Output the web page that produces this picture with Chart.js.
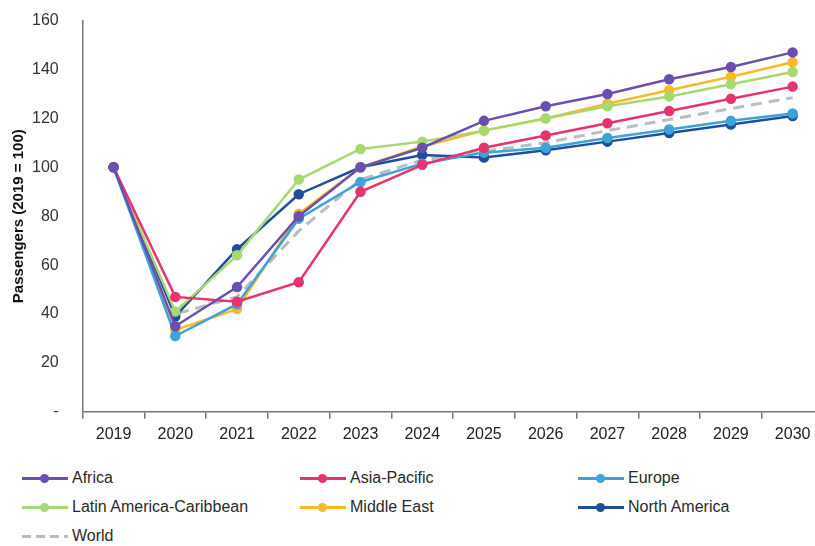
<!DOCTYPE html>
<html>
<head>
<meta charset="utf-8">
<script src="https://cdn.jsdelivr.net/npm/chart.js@4.4.1/dist/chart.umd.min.js"></script>
<style>
  body { margin: 0; background: #fff; }
  #wrap { position: relative; width: 815px; height: 546px; overflow: hidden; }
  #chart-line { position: absolute; left: 0; top: -13px; }
  #legend {
    position: absolute; left: 22px; top: 466px;
    display: grid; grid-template-columns: 278px 278px 230px;
    row-gap: 6px;
    font-family: "Liberation Sans", Arial, sans-serif;
    font-size: 16px; color: #2a2a2a;
  }
  .item { display: flex; align-items: center; height: 23px; }
  .mark { position: relative; width: 46px; height: 10px; margin-right: 4px; }
  .mark .ln { position: absolute; left: 0; right: 0; top: 4px; height: 3px; }
  .mark .dot { position: absolute; left: 18px; top: 1px; width: 9px; height: 9px; border-radius: 50%; }
</style>
</head>
<body>
<div id="wrap">
  <canvas id="chart-line" width="830" height="463"></canvas>
  <div id="legend"></div>
</div>
<script>
// categories
const years = ["2019", "2020", "2021", "2022", "2023", "2024", "2025", "2026", "2027", "2028", "2029", "2030"];

// series values (2019 = 100)
const africa = [100, 35, 51, 80, 100, 108, 119, 125, 130, 136, 141, 147];
const asiaPacific = [100, 47, 45, 53, 90, 101, 108, 113, 118, 123, 128, 133];
const europe = [100, 31, 44, 79, 94, 101.5, 106, 108, 112, 115.5, 119, 122];
const latinAmerica = [100, 41, 64, 95, 107.5, 110.5, 115, 120, 125, 129, 134, 139];
const middleEast = [100, 33.5, 42, 81, 100, 108.5, 115, 120, 126, 131.5, 137, 143];
const northAmerica = [100, 39, 66.5, 89, 100, 105, 104, 107, 110.5, 114, 117.5, 121];
const world = [100, 40, 47, 74, 95, 103, 106.5, 110, 115, 119.5, 124, 128.5];

// y tick labels
const yTicks = [0, 20, 40, 60, 80, 100, 120, 140, 160];

const series = [
  { label: "Africa", data: africa, color: "#6b4fb0" },
  { label: "Asia-Pacific", data: asiaPacific, color: "#e8336e" },
  { label: "Europe", data: europe, color: "#3ea2db" },
  { label: "Latin America-Caribbean", data: latinAmerica, color: "#a8d870" },
  { label: "Middle East", data: middleEast, color: "#fbb928" },
  { label: "North America", data: northAmerica, color: "#1f4f98" },
  { label: "World", data: world, color: "#b9bcc0", dashed: true },
];

const fontFamily = "Liberation Sans, Arial, sans-serif";

const datasets = series.map(function (s) {
  return {
    label: s.label,
    data: s.data,
    borderColor: s.color,
    backgroundColor: s.color,
    pointBackgroundColor: s.color,
    pointBorderColor: s.color,
    borderWidth: s.dashed ? 3 : 2.5,
    borderDash: s.dashed ? [11, 7] : [],
    pointRadius: s.dashed ? 0 : 4,
    tension: 0,
    fill: false,
    order: s.dashed ? 10 : 0,
  };
});

var ctx1 = document.getElementById("chart-line").getContext("2d");

new Chart(ctx1, {
  type: "line",
  data: { labels: years, datasets: datasets },
  options: {
    responsive: false,
    animation: false,
    clip: false,
    layout: { padding: { top: 0, right: 0, left: 4, bottom: 0 } },
    plugins: {
      legend: { display: false },
      tooltip: { enabled: false },
    },
    scales: {
      y: {
        min: 0,
        max: 160,
        afterBuildTicks: function (axis) {
          axis.ticks = yTicks.map(function (v) { return { value: v }; });
        },
        border: { display: true, color: "#777", width: 1.5 },
        grid: { display: false, drawTicks: false },
        ticks: {
          padding: 24,
          color: "#333",
          font: { size: 16, family: fontFamily },
          callback: function (v) { return v === 0 ? "-" : v; },
        },
        title: {
          display: true,
          text: "Passengers (2019 = 100)",
          color: "#111",
          padding: { top: 6, bottom: -20 },
          font: { size: 15, weight: "bold", family: fontFamily },
        },
      },
      x: {
        offset: true,
        border: { display: true, color: "#777", width: 1.5 },
        grid: {
          display: true,
          offset: true,
          drawOnChartArea: false,
          drawTicks: true,
          tickLength: 7,
          color: "#777",
          lineWidth: 1.5,
        },
        ticks: {
          padding: 6,
          color: "#222",
          maxRotation: 0,
          font: { size: 16, family: fontFamily },
        },
      },
    },
  },
});

// HTML legend
const legendEl = document.getElementById("legend");
series.forEach(function (s) {
  const item = document.createElement("div");
  item.className = "item";
  const mark = document.createElement("span");
  mark.className = "mark";
  if (s.dashed) {
    mark.innerHTML = '<span class="ln" style="background:repeating-linear-gradient(90deg,' + s.color + ' 0 9px,transparent 9px 14px)"></span>';
  } else {
    mark.innerHTML = '<span class="ln" style="background:' + s.color + '"></span><span class="dot" style="background:' + s.color + '"></span>';
  }
  const txt = document.createElement("span");
  txt.textContent = s.label;
  item.appendChild(mark);
  item.appendChild(txt);
  legendEl.appendChild(item);
});
</script>
</body>
</html>
